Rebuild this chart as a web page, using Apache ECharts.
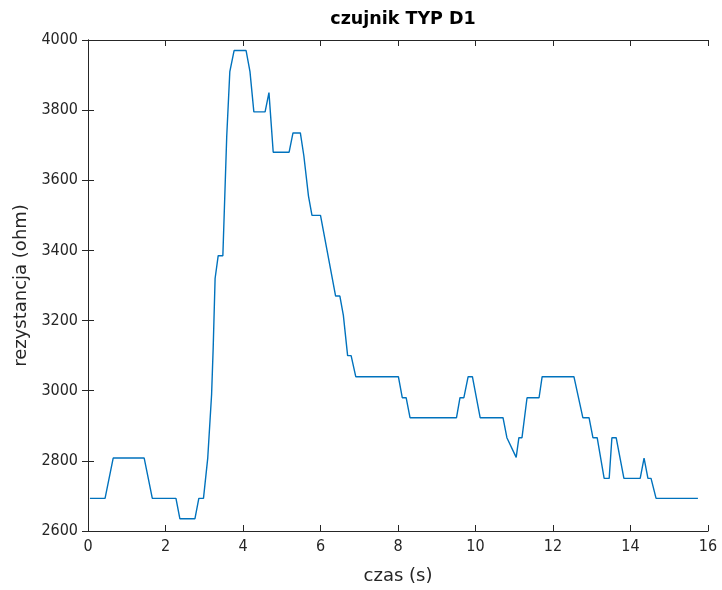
<!DOCTYPE html>
<html>
<head>
<meta charset="utf-8">
<script src="https://cdn.jsdelivr.net/npm/echarts@6/dist/echarts.min.js"></script>
<style>
  html, body { margin: 0; padding: 0; background: #fff; }
  #chart { width: 722px; height: 590px; }
</style>
</head>
<body>
<div id="chart"></div>
<script>
// Sensor resistance over time (time in seconds, resistance in ohm)
const timeSec = [
  0.05, 0.44, 0.65, 1.45, 1.66, 2.27, 2.37, 2.76, 2.86, 2.98,
  3.09, 3.19, 3.23, 3.28, 3.36, 3.48, 3.58, 3.66, 3.77, 4.08,
  4.18, 4.28, 4.57, 4.67, 4.78, 5.19, 5.29, 5.48, 5.57, 5.69,
  5.78, 6.00, 6.39, 6.50, 6.59, 6.70, 6.79, 6.91, 8.01, 8.11,
  8.21, 8.31, 9.51, 9.60, 9.70, 9.81, 9.92, 10.12, 10.71, 10.81,
  10.86, 11.05, 11.12, 11.20, 11.33, 11.64, 11.72, 12.54, 12.77, 12.93,
  13.03, 13.14, 13.32, 13.45, 13.52, 13.63, 13.83, 14.25, 14.35, 14.45,
  14.53, 14.66, 15.74
];
const resistanceOhm = [
  2693, 2693, 2808, 2808, 2693, 2693, 2635, 2635, 2693, 2693,
  2808, 2990, 3120, 3320, 3385, 3385, 3725, 3910, 3970, 3970,
  3910, 3795, 3795, 3850, 3680, 3680, 3735, 3735, 3670, 3555,
  3500, 3500, 3270, 3270, 3215, 3100, 3100, 3040, 3040, 2980,
  2980, 2923, 2923, 2980, 2980, 3040, 3040, 2923, 2923, 2866,
  2866, 2810, 2866, 2866, 2980, 2980, 3040, 3040, 2923, 2923,
  2866, 2866, 2750, 2750, 2866, 2866, 2750, 2750, 2808, 2750,
  2750, 2693, 2693
];
const xTicks = { min: 0, max: 16, interval: 2 };
const yTicks = { min: 2600, max: 4000, interval: 200 };

const axisColor = '#262626';
const labelFont = '"DejaVu Sans", Verdana, sans-serif';
const tickFont = '"Liberation Sans Narrow", "DejaVu Sans Condensed", Arial, sans-serif';

const points = timeSec.map((t, i) => [t, resistanceOhm[i]]);

const chart = echarts.init(document.getElementById('chart'), null, { renderer: 'canvas' });

const tickStyle = { show: true, inside: true, length: 6, lineStyle: { color: axisColor, width: 1 } };
const lineStyle = { show: true, lineStyle: { color: axisColor, width: 1 } };
const plain = v => String(v);

chart.setOption({
  animation: false,
  backgroundColor: '#ffffff',
  title: {
    text: 'czujnik TYP D1',
    left: 398,
    top: 5,
    textAlign: 'center',
    textStyle: { fontFamily: labelFont, fontSize: 17.5, fontWeight: 'bold', color: '#000' }
  },
  grid: { left: 88, right: 14, top: 40, bottom: 57, containLabel: false },
  xAxis: [
    {
      type: 'value',
      position: 'bottom',
      min: xTicks.min, max: xTicks.max, interval: xTicks.interval,
      name: 'czas (s)',
      nameLocation: 'middle',
      nameGap: 36,
      nameTextStyle: { fontFamily: labelFont, fontSize: 18, color: axisColor },
      axisLine: lineStyle,
      axisTick: tickStyle,
      axisLabel: { fontFamily: tickFont, fontSize: 16, color: axisColor, margin: 8, formatter: plain },
      splitLine: { show: false }
    },
    {
      type: 'value',
      position: 'top',
      min: xTicks.min, max: xTicks.max, interval: xTicks.interval,
      axisLine: lineStyle,
      axisTick: tickStyle,
      axisLabel: { show: false },
      splitLine: { show: false }
    }
  ],
  yAxis: [
    {
      type: 'value',
      position: 'left',
      min: yTicks.min, max: yTicks.max, interval: yTicks.interval,
      name: 'rezystancja (ohm)',
      nameLocation: 'middle',
      nameGap: 58,
      nameRotate: 90,
      nameTextStyle: { fontFamily: labelFont, fontSize: 18, color: axisColor },
      axisLine: lineStyle,
      axisTick: tickStyle,
      axisLabel: { fontFamily: tickFont, fontSize: 16, color: axisColor, margin: 10, formatter: plain },
      splitLine: { show: false }
    },
    {
      type: 'value',
      position: 'right',
      min: yTicks.min, max: yTicks.max, interval: yTicks.interval,
      axisLine: lineStyle,
      axisTick: tickStyle,
      axisLabel: { show: false },
      splitLine: { show: false }
    }
  ],
  series: [
    {
      type: 'line',
      data: points,
      xAxisIndex: 0,
      yAxisIndex: 0,
      showSymbol: false,
      symbol: 'none',
      lineStyle: { color: '#0072BD', width: 1.4 },
      z: 3
    }
  ]
});
</script>
</body>
</html>
